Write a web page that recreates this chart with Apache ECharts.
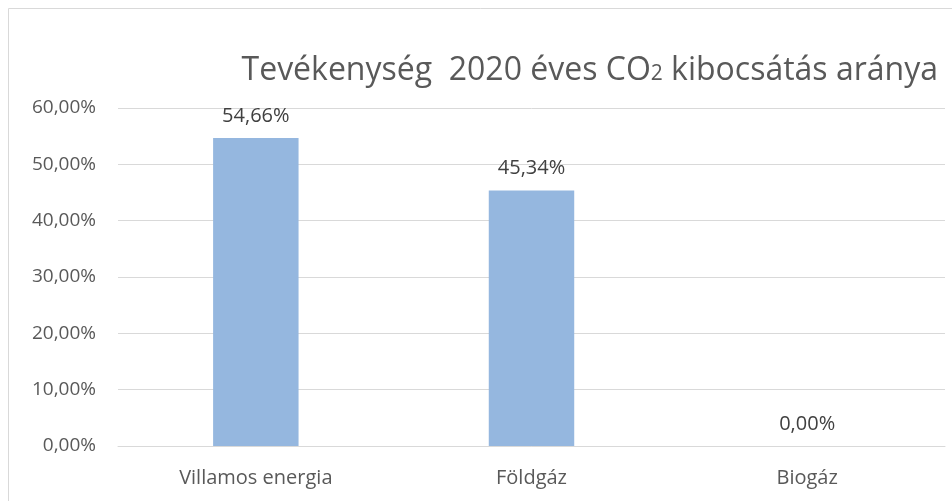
<!DOCTYPE html>
<html>
<head>
<meta charset="utf-8">
<script src="https://cdn.jsdelivr.net/npm/echarts@6/dist/echarts.min.js"></script>
<style>
  html, body { margin: 0; padding: 0; background: #fff; }
  #chart { width: 952px; height: 501px; }
</style>
</head>
<body>
<div id="chart"></div>
<script>
const categories = ['Villamos energia', 'Földgáz', 'Biogáz'];
const shares = [54.66, 45.34, 0];
const yTicks = { min: 0, max: 60, interval: 10 };

const pct = v => v.toFixed(2).replace('.', ',') + '%';
const font = '"Open Sans", "Noto Sans", sans-serif';

const chart = echarts.init(document.getElementById('chart'));

chart.setOption({
  animation: false,
  textStyle: { fontFamily: font, color: '#595959' },
  graphic: [{
    type: 'rect',
    shape: { x: 8.5, y: 8.5, width: 960, height: 500 },
    style: { fill: 'none', stroke: '#d9d9d9', lineWidth: 1 },
    silent: true
  }],
  title: {
    text: 'Tevékenység  2020 éves CO{sub|2} kibocsátás aránya',
    right: 9,
    top: 50,
    textStyle: {
      fontFamily: font,
      fontSize: 32,
      fontWeight: 'normal',
      color: '#595959',
      rich: {
        sub: { fontFamily: font, fontSize: 21, color: '#595959', padding: [6, 0, 0, 0] }
      }
    }
  },
  grid: { left: 118, right: 7, top: 108, bottom: 55 },
  xAxis: {
    type: 'category',
    data: categories,
    axisLine: { lineStyle: { color: '#d9d9d9' } },
    axisTick: { show: false },
    axisLabel: { fontFamily: font, fontSize: 20, color: '#595959', margin: 22 }
  },
  yAxis: {
    type: 'value',
    min: yTicks.min,
    max: yTicks.max,
    interval: yTicks.interval,
    axisLine: { show: false },
    axisTick: { show: false },
    splitLine: { lineStyle: { color: '#d9d9d9' } },
    axisLabel: { fontFamily: font, fontSize: 19, color: '#595959', margin: 22, formatter: pct }
  },
  series: [{
    type: 'bar',
    data: shares,
    barWidth: '31%',
    itemStyle: { color: '#95b7df' },
    label: {
      show: true,
      position: 'top',
      distance: 12,
      fontFamily: font,
      fontSize: 20,
      color: '#404040',
      formatter: p => pct(p.value)
    }
  }]
});
</script>
</body>
</html>
